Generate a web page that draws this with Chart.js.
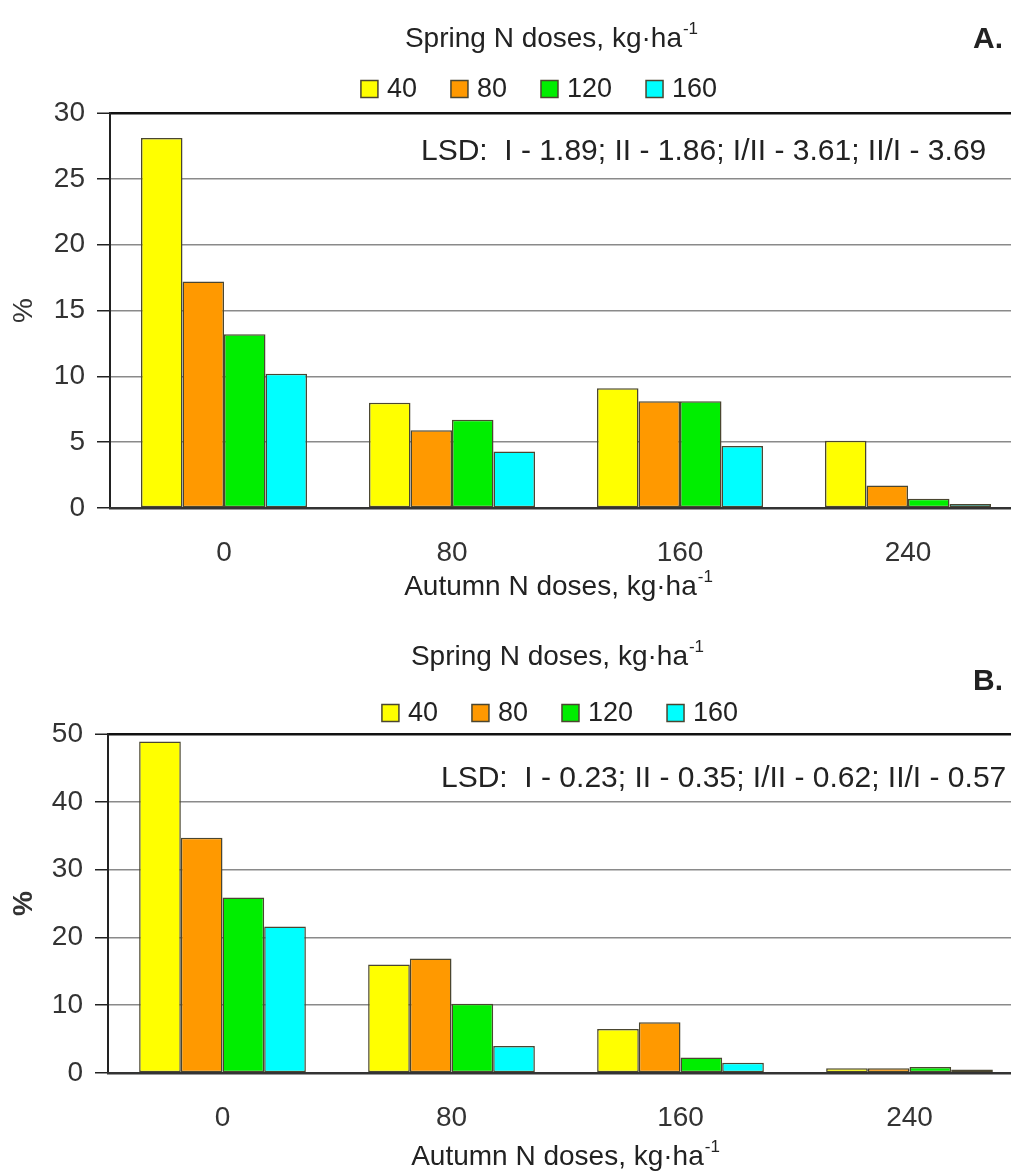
<!DOCTYPE html>
<html>
<head>
<meta charset="utf-8">
<script src="https://cdn.jsdelivr.net/npm/chart.js@4.4.1/dist/chart.umd.min.js"></script>
<style>
  html, body { margin: 0; padding: 0; background: #fff; overflow: hidden; }
  body { width: 1011px; height: 1172px; position: relative; }
  .panel { position: absolute; left: 0; width: 1040px; }
  #panelA { top: 0; height: 610px; }
  #panelB { top: 610px; height: 562px; }
</style>
</head>
<body>
<div class="panel" id="panelA"><canvas id="chartA"></canvas></div>
<div class="panel" id="panelB"><canvas id="chartB"></canvas></div>
<script>
// autumn N doses (x categories) and spring N doses (series)
const categories = ['0', '80', '160', '240'];
const springDoses = ['40', '80', '120', '160'];
const barColors = ['#ffff00', '#ff9900', '#00ee00', '#00ffff'];

// panel A, %
const a40 = [28.1, 8.0, 9.1, 5.1];
const a80 = [17.2, 5.9, 8.1, 1.7];
const a120 = [13.2, 6.7, 8.1, 0.7];
const a160 = [10.2, 4.3, 4.7, 0.3];
const yTicksA = [0, 5, 10, 15, 20, 25, 30];

// panel B, %
const b40 = [48.9, 16.0, 6.5, 0.7];
const b80 = [34.7, 16.9, 7.5, 0.7];
const b120 = [25.9, 10.2, 2.3, 0.9];
const b160 = [21.6, 4.0, 1.5, 0.5];
const yTicksB = [0, 10, 20, 30, 40, 50];

const lsdA = 'LSD:  I - 1.89; II - 1.86; I/II - 3.61; II/I - 3.69';
const lsdB = 'LSD:  I - 0.23; II - 0.35; I/II - 0.62; II/I - 0.57';

const FONT = '"Liberation Sans", Arial, Helvetica, sans-serif';
const TEXT = '#222';
const EDGE = '#4a4630';

function drawWithSup(ctx, main, sup, cx, cy, size) {
    const supSize = Math.round(size * 0.62);
    ctx.font = size + 'px ' + FONT;
    const w1 = ctx.measureText(main).width;
    ctx.font = supSize + 'px ' + FONT;
    const w2 = ctx.measureText(sup).width;
    const x = cx - (w1 + w2) / 2;
    ctx.textAlign = 'left';
    ctx.textBaseline = 'middle';
    ctx.font = size + 'px ' + FONT;
    ctx.fillText(main, x, cy);
    ctx.font = supSize + 'px ' + FONT;
    ctx.fillText(sup, x + w1 + 1, cy - size * 0.33);
}

// titles, legend, LSD note and panel letter
const panelText = {
    id: 'panelText',
    afterDraw(chart, args, o) {
        const ctx = chart.ctx;
        ctx.save();
        ctx.fillStyle = TEXT;
        drawWithSup(ctx, 'Spring N doses, kg\u00b7ha', '-1', o.titleX, o.titleY, 28);
        drawWithSup(ctx, 'Autumn N doses, kg\u00b7ha', '-1', o.xTitleX, o.xTitleY, 28);

        ctx.font = 'bold 30px ' + FONT;
        ctx.textAlign = 'center';
        ctx.textBaseline = 'middle';
        ctx.fillText(o.letter, o.letterX, o.letterY);

        ctx.font = '30px ' + FONT;
        ctx.textAlign = 'left';
        ctx.fillText(o.lsd, o.lsdX, o.lsdY);

        // legend
        const ds = chart.data.datasets;
        const box = 17, gapText = 9, gapItem = 34;
        ctx.font = '27px ' + FONT;
        const widths = ds.map(d => box + gapText + ctx.measureText(d.label).width);
        const total = widths.reduce((s, w) => s + w, 0) + gapItem * (ds.length - 1);
        let x = o.legendX - total / 2;
        const y = o.legendY;
        ds.forEach((d, i) => {
            ctx.fillStyle = d.backgroundColor;
            ctx.fillRect(x, y - box / 2, box, box);
            ctx.strokeStyle = EDGE;
            ctx.lineWidth = 1.5;
            ctx.strokeRect(x, y - box / 2, box, box);
            ctx.fillStyle = TEXT;
            ctx.textAlign = 'left';
            ctx.textBaseline = 'middle';
            ctx.fillText(d.label, x + box + gapText, y + 1);
            x += widths[i] + gapItem;
        });
        ctx.restore();
    }
};

function buildChart(canvasId, series, yTicks, cfg) {
    const yMax = yTicks[yTicks.length - 1];
    return new Chart(document.getElementById(canvasId), {
        type: 'bar',
        data: {
            labels: categories,
            datasets: series.map((values, i) => ({
                label: springDoses[i],
                data: values,
                backgroundColor: barColors[i],
                borderColor: EDGE,
                borderWidth: 1.5,
                borderSkipped: false,
                categoryPercentage: 0.728,
                barPercentage: 1.0
            }))
        },
        options: {
            responsive: true,
            maintainAspectRatio: false,
            animation: false,
            layout: { padding: { top: cfg.padTop, left: 0, right: cfg.padRight, bottom: 0 } },
            plugins: {
                legend: { display: false },
                tooltip: { enabled: false },
                panelText: cfg.text
            },
            scales: {
                x: {
                    afterFit: s => { s.height = cfg.xAxisHeight; },
                    grid: { display: false, drawTicks: false },
                    border: { display: true, color: '#333', width: 2.5, z: 1 },
                    ticks: { color: '#333', padding: 28, font: { family: FONT, size: 28 } }
                },
                y: {
                    min: yTicks[0],
                    max: yMax,
                    afterFit: s => { s.width = cfg.yAxisWidth; },
                    afterBuildTicks: s => { s.ticks = yTicks.map(v => ({ value: v })); },
                    grid: {
                        color: c => (c.tick && c.tick.value === yMax) ? '#111' : '#8a8a8a',
                        lineWidth: c => (c.tick && c.tick.value === yMax) ? 2.5 : 1.5,
                        tickLength: 13,
                        tickColor: '#222',
                        tickWidth: 1.5
                    },
                    border: { display: true, color: '#222', width: 2 },
                    ticks: { color: '#333', padding: 12, font: { family: FONT, size: 28 } },
                    title: {
                        display: true,
                        text: '%',
                        color: '#333',
                        padding: { top: 7, bottom: 0 },
                        font: { family: FONT, size: 28, weight: cfg.percentWeight }
                    }
                }
            }
        },
        plugins: [panelText]
    });
}

buildChart('chartA', [a40, a80, a120, a160], yTicksA, {
    padTop: 113, padRight: 18, xAxisHeight: 102, yAxisWidth: 110, percentWeight: 'normal',
    text: {
        titleX: 551, titleY: 39, letter: 'A.', letterX: 988, letterY: 40,
        legendX: 539, legendY: 89, lsd: lsdA, lsdX: 421, lsdY: 152,
        xTitleX: 558, xTitleY: 587
    }
});

buildChart('chartB', [b40, b80, b120, b160], yTicksB, {
    padTop: 124, padRight: 16, xAxisHeight: 99, yAxisWidth: 108, percentWeight: 'bold',
    text: {
        titleX: 557, titleY: 47, letter: 'B.', letterX: 988, letterY: 72,
        legendX: 560, legendY: 103, lsd: lsdB, lsdX: 441, lsdY: 169,
        xTitleX: 565, xTitleY: 547
    }
});
</script>
</body>
</html>
